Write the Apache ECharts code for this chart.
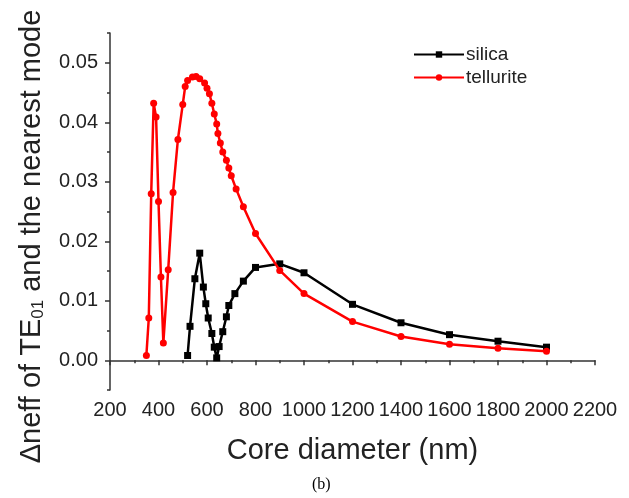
<!DOCTYPE html>
<html>
<head>
<meta charset="utf-8">
<script src="https://cdn.jsdelivr.net/npm/echarts@6/dist/echarts.min.js"></script>
<style>
  html, body { margin: 0; padding: 0; background: #fff; }
  #chart { width: 629px; height: 498px; }
</style>
</head>
<body>
<div id="chart"></div>
<script>
// silica
const silicaX = [520, 530, 550, 570, 585, 595, 605, 620, 630, 640, 650, 665, 680, 690, 715, 750, 800, 900, 1000, 1200, 1400, 1600, 1800, 2000];
const silicaY = [0.0008, 0.0057, 0.0137, 0.0180, 0.0123, 0.0095, 0.0071, 0.0045, 0.0022, 0.0004, 0.0023, 0.0048, 0.0073, 0.0092, 0.0112, 0.0133, 0.0156, 0.0162, 0.0147, 0.0094, 0.0063, 0.0043, 0.0032, 0.0022];

// tellurite
const telluriteX = [350, 360, 370, 380, 390, 400, 410, 420, 440, 460, 480, 500, 510, 520, 540, 555, 570, 590, 600, 610, 620, 630, 640, 645, 655, 665, 680, 690, 700, 720, 750, 800, 900, 1000, 1200, 1400, 1600, 1800, 2000];
const telluriteY = [0.0008, 0.0071, 0.0280, 0.0432, 0.0409, 0.0267, 0.0140, 0.0029, 0.0152, 0.0282, 0.0371, 0.0430, 0.0460, 0.0470, 0.0476, 0.0477, 0.0473, 0.0466, 0.0457, 0.0448, 0.0432, 0.0414, 0.0397, 0.0381, 0.0365, 0.0350, 0.0336, 0.0323, 0.0310, 0.0288, 0.0258, 0.0213, 0.0151, 0.0112, 0.0065, 0.0040, 0.0027, 0.0020, 0.0015];

const yMajor = [0, 0.01, 0.02, 0.03, 0.04, 0.05];
const yMinor = [-0.005, 0.005, 0.015, 0.025, 0.035, 0.045, 0.055];

const zip = (xs, ys) => xs.map((x, i) => [x, ys[i]]);
const FONT = "Liberation Sans";
const TXT = "#222";
const AX = "#333";

const myChart = echarts.init(document.getElementById("chart"));
const option = {
  animation: false,
  textStyle: { fontFamily: FONT },
  grid: { left: 110, right: 34, top: 33, bottom: 108, containLabel: false },
  legend: {
    orient: "vertical",
    left: 408,
    top: 40,
    itemWidth: 50,
    itemHeight: 8,
    itemGap: 4,
    textStyle: { fontSize: 19, color: TXT, fontFamily: FONT, padding: [0, 0, 0, -3] },
    data: ["silica", "tellurite"]
  },
  xAxis: {
    type: "value",
    min: 200,
    max: 2200,
    interval: 200,
    name: "Core diameter (nm)",
    nameLocation: "middle",
    nameGap: 46,
    nameTextStyle: { fontSize: 29, color: TXT, fontFamily: FONT },
    axisLine: { lineStyle: { color: AX, width: 1.5 } },
    axisTick: { length: 5, lineStyle: { color: AX, width: 1.5 } },
    minorTick: { show: true, splitNumber: 2, length: 3, lineStyle: { color: AX, width: 1.5 } },
    axisLabel: { fontSize: 20, color: TXT, margin: 10, fontFamily: FONT, formatter: (v) => String(v) },
    splitLine: { show: false }
  },
  yAxis: [
    {
      type: "value",
      min: -0.005,
      max: 0.055,
      name: "{t|Δneff of TE}{s|01}{t| and the nearest mode}",
      nameLocation: "middle",
      nameGap: 63,
      nameTextStyle: {
        padding: [0, 50, 0, 0],
        rich: {
          t: { fontSize: 29, color: TXT, fontFamily: FONT },
          s: { fontSize: 17, color: TXT, fontFamily: FONT, padding: [13, 0, 0, 0] }
        }
      },
      axisLine: { show: true, lineStyle: { color: AX, width: 1.5 } },
      axisTick: { show: true, length: 5, customValues: yMajor, lineStyle: { color: AX, width: 1.5 } },
      axisLabel: {
        fontSize: 20,
        color: TXT,
        margin: 12,
        fontFamily: FONT,
        customValues: yMajor,
        formatter: (v) => v.toFixed(2)
      },
      splitLine: { show: false }
    },
    {
      type: "value",
      min: -0.005,
      max: 0.055,
      position: "left",
      axisLine: { show: false },
      axisTick: { show: true, length: 3, customValues: yMinor, lineStyle: { color: AX, width: 1.5 } },
      axisLabel: { show: false },
      splitLine: { show: false }
    }
  ],
  series: [
    {
      name: "silica",
      type: "line",
      data: zip(silicaX, silicaY),
      symbol: "rect",
      symbolSize: 7,
      itemStyle: { color: "#000" },
      lineStyle: { color: "#000", width: 2.5 },
      z: 2
    },
    {
      name: "tellurite",
      type: "line",
      data: zip(telluriteX, telluriteY),
      symbol: "circle",
      symbolSize: 7,
      itemStyle: { color: "#ff0000" },
      lineStyle: { color: "#ff0000", width: 2.5 },
      z: 3
    }
  ],
  graphic: [
    {
      type: "text",
      left: 312,
      top: 477,
      style: { text: "(b)", fontSize: 16, fontFamily: "Liberation Serif", fill: "#000" }
    }
  ]
};
myChart.setOption(option);
</script>
</body>
</html>
